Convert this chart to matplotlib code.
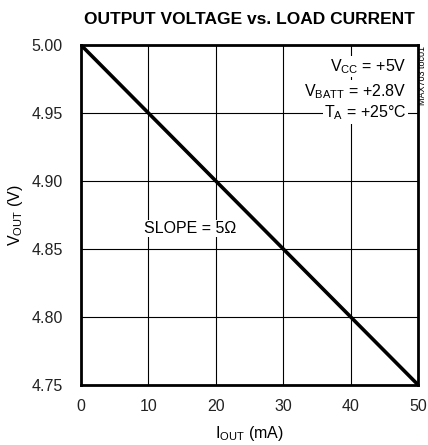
import numpy as np
import matplotlib
matplotlib.use('Agg')
import matplotlib.pyplot as plt
from matplotlib import font_manager

# font: narrow Arial-like if available
names = {f.name for f in font_manager.fontManager.ttflist}
fam = 'Liberation Sans Narrow' if 'Liberation Sans Narrow' in names else 'Liberation Sans'
plt.rcParams['font.family'] = [fam, 'DejaVu Sans']
plt.rcParams['mathtext.fontset'] = 'custom'
plt.rcParams['mathtext.rm'] = fam

# data
i_out = [0, 50]          # mA
v_out = [5.00, 4.75]     # V
x_ticks = [0, 10, 20, 30, 40, 50]
y_ticks = [4.75, 4.80, 4.85, 4.90, 4.95, 5.00]

fig = plt.figure(figsize=(4.28, 4.45), dpi=100)
ax = fig.add_axes([0.189, 0.135, 0.788, 0.764])

ax.plot(i_out, v_out, color='black', lw=2.6, zorder=3)

ax.set_xlim(0, 50)
ax.set_ylim(4.75, 5.00)
ax.set_xticks(x_ticks)
ax.set_yticks(y_ticks)
ax.set_yticklabels([f'{v:.2f}' for v in y_ticks])
ax.grid(True, color='black', lw=0.8)
ax.tick_params(length=0, labelsize=11.5, colors='#222222')
ax.tick_params(axis='y', pad=13)
ax.tick_params(axis='x', pad=10)
for s in ax.spines.values():
    s.set_linewidth(2)

ax.set_title('OUTPUT VOLTAGE vs. LOAD CURRENT', fontsize=12.5, fontweight='bold', pad=15)
ax.set_xlabel(r'I$_{\rm OUT}$ (mA)', fontsize=11.5, labelpad=7)
ax.set_ylabel(r'V$_{\rm OUT}$ (V)', fontsize=11.5, labelpad=5)

box = dict(facecolor='white', edgecolor='none', pad=1)
ax.text(48.3, 4.984, r'V$_{\rm CC}$ = +5V', ha='right', va='center', fontsize=11.5, bbox=box, zorder=4)
ax.text(48.3, 4.966, r'V$_{\rm BATT}$ = +2.8V', ha='right', va='center', fontsize=11.5, bbox=box, zorder=4)
ax.text(48.3, 4.950, r'T$_{\rm A}$ = +25°C', ha='right', va='center', fontsize=11.5, bbox=box, zorder=4)
ax.text(9.3, 4.865, 'SLOPE = 5Ω', ha='left', va='center', fontsize=11.5, bbox=box, zorder=4)

fig.text(0.987, 0.83, 'MAX703 toc01', rotation=90, ha='center', va='center', fontsize=6.5)

fig.savefig('out.png', dpi=100)
